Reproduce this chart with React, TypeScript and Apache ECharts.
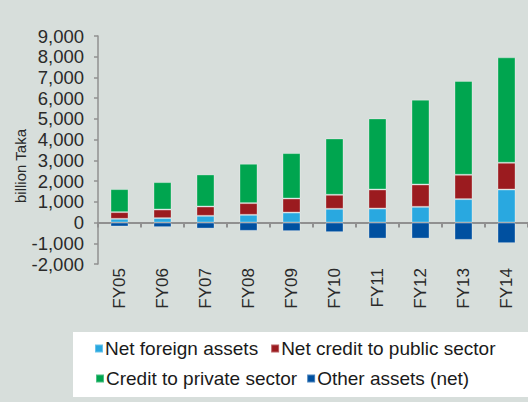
import React, { useEffect, useRef } from "react";
import * as echarts from "echarts";

const categories = ["FY05", "FY06", "FY07", "FY08", "FY09", "FY10", "FY11", "FY12", "FY13", "FY14"];
const netForeignAssets = [180, 212, 324, 372, 483, 662, 676, 758, 1130, 1594];
const netCreditPublic = [322, 416, 449, 565, 677, 676, 918, 1078, 1174, 1290];
const creditPrivate = [1111, 1322, 1547, 1899, 2190, 2720, 3430, 4092, 4527, 5087];
const otherAssets = [-190, -222, -290, -400, -415, -464, -773, -773, -836, -995];
const yTicks = { min: -2000, max: 9000, interval: 1000 };

const FONT = "'Liberation Sans', Arial, sans-serif";

export default function App() {
  const ref = useRef<HTMLDivElement>(null);
  useEffect(() => {
    const chart = echarts.init(ref.current!, null, { renderer: "svg" });
    const mk = (name: string, data: number[], color: string) => ({
      name,
      type: "bar",
      stack: "total",
      data,
      barWidth: 18,
      itemStyle: { color, borderColor: "rgba(255,255,255,0.3)", borderWidth: 1 },
    });
    chart.setOption({
      animation: false,
      backgroundColor: "#d7dedb",
      textStyle: { fontFamily: FONT },
      grid: { left: 98, right: 0, top: 36, bottom: 138, containLabel: false },
      xAxis: {
        type: "category",
        data: categories,
        axisLine: { onZero: true, lineStyle: { color: "#909090", width: 2 } },
        axisTick: { show: true, length: 5, lineStyle: { color: "#909090", width: 2 } },
        axisLabel: { rotate: 90, margin: 4, fontSize: 17, color: "#2a2a2a", fontFamily: FONT },
      },
      yAxis: {
        type: "value",
        min: yTicks.min,
        max: yTicks.max,
        interval: yTicks.interval,
        splitLine: { show: false },
        axisLine: { show: true, lineStyle: { color: "#909090", width: 1.5 } },
        axisTick: { show: true, length: 4, lineStyle: { color: "#909090", width: 1.5 } },
        axisLabel: {
          margin: 14,
          fontSize: 18.5,
          color: "#2a2a2a",
          fontFamily: FONT,
          formatter: (v: number) => v.toLocaleString("en-US"),
        },
      },
      legend: [
        {
          data: ["Net foreign assets", "Net credit to public sector"],
          left: 94,
          top: 339,
          padding: 0,
          itemWidth: 8,
          itemHeight: 8,
          itemGap: 12,
          icon: "rect",
          textStyle: { fontSize: 19, color: "#1a1a1a", fontFamily: FONT, padding: [0, 0, 0, -3] },
        },
        {
          data: ["Credit to private sector", "Other assets (net)"],
          left: 95,
          top: 369,
          padding: 0,
          itemWidth: 8,
          itemHeight: 8,
          itemGap: 9,
          icon: "rect",
          textStyle: { fontSize: 19, color: "#1a1a1a", fontFamily: FONT, padding: [0, 0, 0, -3] },
        },
      ],
      graphic: [
        {
          type: "rect",
          z: -1,
          shape: { x: 73, y: 332, width: 455, height: 65 },
          style: { fill: "#ffffff" },
        },
        {
          type: "text",
          x: 20,
          y: 166,
          rotation: Math.PI / 2,
          style: {
            text: "billion Taka",
            fontSize: 15,
            fontFamily: FONT,
            fill: "#2a2a2a",
            align: "center",
            verticalAlign: "middle",
          },
        },
      ],
      series: [
        mk("Net foreign assets", netForeignAssets, "#29a8e0"),
        mk("Net credit to public sector", netCreditPublic, "#9b1b1f"),
        mk("Credit to private sector", creditPrivate, "#00a54f"),
        mk("Other assets (net)", otherAssets, "#0050a0"),
      ],
    });
    return () => chart.dispose();
  }, []);
  return (
    <div
      ref={ref}
      style={{ position: "fixed", left: 0, top: 0, width: 528, height: 402 }}
    />
  );
}
